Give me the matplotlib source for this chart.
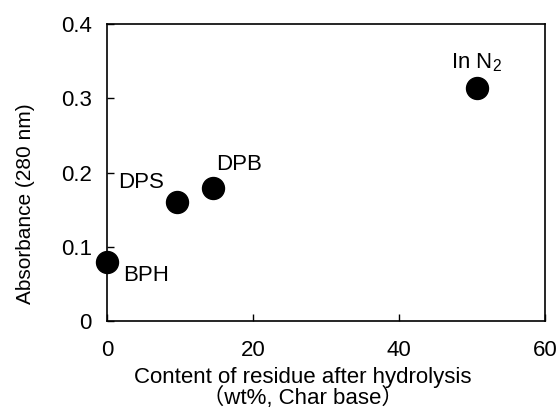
import matplotlib
matplotlib.use("Agg")
import matplotlib.pyplot as plt

plt.rcParams['font.family'] = ['Liberation Sans', 'Noto Sans CJK JP', 'DejaVu Sans']
plt.rcParams['mathtext.fontset'] = 'custom'
plt.rcParams['mathtext.rm'] = 'Liberation Sans'
plt.rcParams['mathtext.it'] = 'Liberation Sans'

labels = ['BPH', 'DPS', 'DPB', 'In N$_2$']
residue = [0.0, 9.6, 14.5, 50.6]
absorbance = [0.080, 0.160, 0.179, 0.314]
label_offsets = [(11.5, -14.2), (-9.1, 10.0), (18.9, 13.2), (0, 14.4)]
label_ha = ['left', 'right', 'center', 'center']

x_ticks = [0, 20, 40, 60]
y_ticks = [0, 0.1, 0.2, 0.3, 0.4]
y_ticklabels = ['0', '0.1', '0.2', '0.3', '0.4']

FS = 16
fig = plt.figure(figsize=(5.6, 4.15), dpi=100)
ax = fig.add_axes([0.191, 0.2265, 0.783, 0.7155])
ax.scatter(residue, absorbance, s=250, color='black', zorder=3, clip_on=False)
for lab, x, y, off, ha in zip(labels, residue, absorbance, label_offsets, label_ha):
    ax.annotate(lab, (x, y), xytext=off, textcoords='offset points',
                ha=ha, va='baseline', fontsize=FS)

ax.set_xlim(0, 60)
ax.set_ylim(0, 0.4)
ax.set_xticks(x_ticks)
ax.set_yticks(y_ticks)
ax.set_yticklabels(y_ticklabels)
ax.tick_params(direction='in', length=5, width=1, labelsize=FS)
ax.tick_params(axis='y', pad=11)
ax.tick_params(axis='x', pad=14)
for sp in ax.spines.values():
    sp.set_linewidth(1.2)
ax.set_xlabel('Content of residue after hydrolysis\n（wt%, Char base）', fontsize=FS,
              linespacing=0.95)
ax.xaxis.set_label_coords(0.447, -0.155)
ax.set_ylabel('Absorbance (280 nm)', fontsize=15)
ax.yaxis.set_label_coords(-0.165, 0.394)

fig.savefig('out.png', dpi=100)
